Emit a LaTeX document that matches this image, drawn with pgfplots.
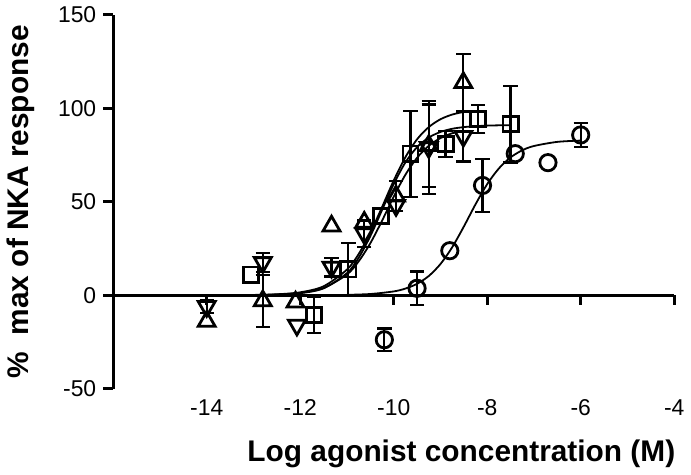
\documentclass[border=0pt]{standalone}
\usepackage{fontspec}
\setmainfont{Liberation Sans}
\usepackage{pgfplots}
\pgfplotsset{compat=1.18}

% x, y, error (0 = no bar drawn)
\pgfplotstableread{
x      y      e
-13.05 11.0   0
-11.71 -10.6  9.5
-10.97 13.8   14
-10.27 42.3   0
-9.64  75.7   23
-8.89  81.0   7
-8.19  94.2   7.5
-7.50  91.5   20.5
}\sqdata
\pgfplotstableread{
x      y      e
-14.00 -14.0  0
-12.80 -3.0   14
-12.10 -3.7   0
-11.33 37.0   0
-10.63 39.0   0
-9.95  53.0   8
-9.25  80.0   22
-8.51  113.7  15.5
}\updata
\pgfplotstableread{
x      y      e
-14.00 -6.0   3.5
-12.80 17.5   5
-12.07 -16.0  0
-11.33 15.0   5
-10.63 33.0   7
-9.95  48.0   0
-9.25  79.0   25
-8.51  85.0   13.5
}\dndata
\pgfplotstableread{
x      y      e
-10.20 -23.8  6
-9.50  3.7    9
-8.80  23.8   0
-8.10  58.7   14
-7.40  75.7   0
-6.70  70.9   0
-6.00  85.7   6.6
}\circdata

\begin{document}
\begin{tikzpicture}
\begin{axis}[
  scale only axis,
  width=282pt, height=188pt,
  xmin=-16, xmax=-4, ymin=-50, ymax=150,
  axis y line=left, axis x line=bottom,
  axis line style={-, line width=1.6pt},
  x axis line style={draw=none},
  xtick={-14,-12,...,-4},
  ytick={-50,0,50,100,150},
  xtick style={draw=none},
  ytick style={draw=black, line width=1.6pt},
  tick align=outside,
  major tick length=5pt,
  /pgf/number format/assume math mode=true,
  tick label style={font=\fontsize{11.5}{13}\selectfont},
  xticklabel style={yshift=3pt},
  label style={font=\bfseries\fontsize{15}{17}\selectfont},
  xlabel={Log agonist concentration (M)},
  ylabel={\%\ \ max of NKA response},
  xlabel style={xshift=34pt, yshift=-5pt},
  ylabel style={yshift=5pt},
  clip=false,
]
% zero line acting as x axis
\addplot[black, line width=1.6pt, forget plot] coordinates {(-16,0) (-4,0)};
\pgfplotsinvokeforeach{-14,-12,-10,-8,-6,-4}{
  \draw[line width=1.6pt] (axis cs:#1,0) -- ([yshift=-5pt]axis cs:#1,0);
}

% error bars
\pgfplotsset{ebar/.style={draw=none, mark=none, forget plot,
  restrict expr to domain={\thisrow{e}}{0.01:1000},
  error bars/.cd, y dir=both, y explicit,
  error bar style={draw=black, line width=1.1pt, solid},
  error mark options={draw=black, rotate=90, mark size=3.6pt, line width=1.1pt}}}
\addplot[ebar] table[x=x, y=y, y error=e] {\sqdata};
\addplot[ebar] table[x=x, y=y, y error=e] {\updata};
\addplot[ebar] table[x=x, y=y, y error=e] {\dndata};
\addplot[ebar] table[x=x, y=y, y error=e] {\circdata};

% markers
\pgfplotsset{mk/.style={only marks, mark options={draw=black, fill=white, line width=1.4pt}}}
\addplot[mk, mark=square, mark size=3.8pt] table[x=x, y=y] {\sqdata};
\addplot[mk, mark=triangle, mark size=4.9pt] table[x=x, y=y] {\updata};
\addplot[only marks, mark=triangle, mark size=4.9pt,
  mark options={draw=black, fill=white, line width=1.4pt, rotate=180}] table[x=x, y=y] {\dndata};
\addplot[mk, mark=o, mark size=4.1pt] table[x=x, y=y] {\circdata};

% fitted curves
\addplot[black, line width=0.9pt, smooth] coordinates {
(-14,0.02)(-13,0.16)(-12.5,0.5)(-12,1.56)(-11.5,4.77)(-11,13.7)(-10.75,22.0)
(-10.5,33.4)(-10.25,47.1)(-10,61.3)(-9.75,73.8)(-9.5,83.4)(-9.25,89.9)
(-9,94.1)(-8.75,96.6)(-8.51,98.0)};
\addplot[black, line width=0.9pt, smooth] coordinates {
(-14,0.01)(-13,0.09)(-12.5,0.3)(-12,1.07)(-11.5,3.68)(-11,11.8)(-10.75,20.0)
(-10.5,31.6)(-10.25,45.5)(-10,59.4)(-9.75,71.0)(-9.5,79.2)(-9.25,84.3)
(-9,87.3)(-8.75,89.0)(-8.5,89.9)(-8.25,90.4)(-8,90.7)(-7.75,90.85)(-7.5,90.9)};
\addplot[black, line width=0.9pt, smooth] coordinates {
(-14,0.01)(-13,0.13)(-12.5,0.4)(-12,1.25)(-11.5,3.85)(-11,11.1)(-10.75,18.1)
(-10.5,27.8)(-10.25,39.8)(-10,52.7)(-9.75,64.4)(-9.5,73.5)(-9.25,79.9)
(-9,84.0)(-8.75,86.6)(-8.51,88.0)};
\addplot[black, line width=0.9pt, smooth] coordinates {
(-11,0.21)(-10.5,0.65)(-10,2.03)(-9.75,3.55)(-9.5,6.11)(-9.25,10.27)(-9,16.67)
(-8.75,25.6)(-8.5,36.7)(-8.25,48.6)(-8,59.4)(-7.75,67.8)(-7.5,73.7)
(-7.25,77.5)(-7,79.8)(-6.5,82.0)(-6,82.7)};
\end{axis}
\end{tikzpicture}
\end{document}
